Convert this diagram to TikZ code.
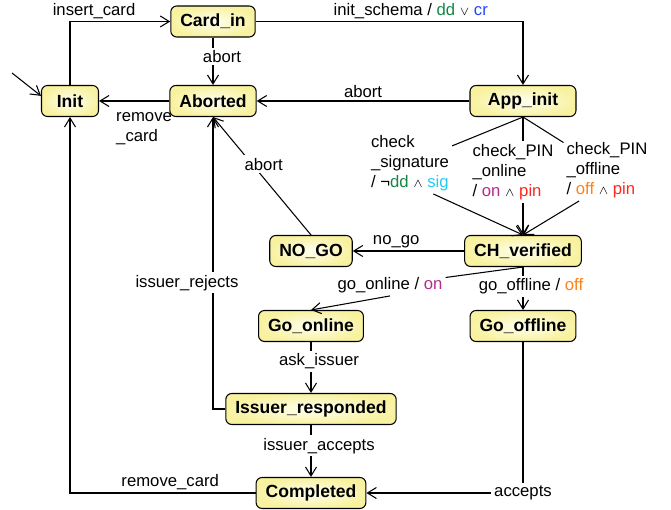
\documentclass[tikz,border=0pt]{standalone}
\usepackage{fontspec}
\setmainfont{Liberation Sans}
\usepackage{tikz}
\usetikzlibrary{arrows.meta}

\definecolor{stfill}{RGB}{248,242,160}
\definecolor{stcore}{RGB}{255,255,240}
\definecolor{ddgreen}{RGB}{20,135,70}
\definecolor{crblue}{RGB}{35,70,250}
\definecolor{sigcyan}{RGB}{40,200,240}
\definecolor{onpurple}{RGB}{180,40,140}
\definecolor{pinred}{RGB}{250,40,30}
\definecolor{offorange}{RGB}{255,130,20}

\newcommand\andop{\ensuremath{\scriptstyle\wedge}}
\newcommand\orop{\ensuremath{\scriptstyle\vee}}

\tikzset{
  stbox/.style={draw=black, rounded corners=0.12cm, inner color=stcore, outer color=stfill,
                minimum height=0.62cm, inner xsep=0.19cm, font=\bfseries},
  lbl/.style={inner sep=1.5pt},
  tr/.style={-{Straight Barb[length=1.8mm,width=2.2mm]}},
}

\begin{document}
\begin{tikzpicture}[line width=0.6pt, font=\fontsize{9.5}{11.4}\selectfont]
    \useasboundingbox (0,0) rectangle (13.42,-10.2);
    % states
    \node[stbox, minimum width=1.14cm] (Init)    at ( 1.40,-2.02) {Init};
    \node[stbox]                       (CardIn)  at ( 4.26,-0.43) {Card\_in};
    \node[stbox]                       (Aborted) at ( 4.26,-2.02) {Aborted};
    \node[stbox, minimum width=2.12cm] (AppInit) at (10.46,-2.02) {App\_init};
    \node[stbox]                       (NoGo)    at ( 6.22,-5.02) {NO\_GO};
    \node[stbox]                       (CHver)   at (10.46,-5.02) {CH\_verified};
    \node[stbox]                       (GoOn)    at ( 6.22,-6.52) {Go\_online};
    \node[stbox]                       (GoOff)   at (10.46,-6.52) {Go\_offline};
    \node[stbox]                       (IssResp) at ( 6.22,-8.18) {Issuer\_responded};
    \node[stbox]                       (Completed) at ( 6.22,-9.86) {Completed};
    % labels the edges pass through
    \node[lbl, align=left] (chksig) at ( 8.20,-3.26) {check\\\_signature\\/ ¬\textcolor{ddgreen}{dd} \andop{} \textcolor{sigcyan}{sig}};
    \node[lbl, align=left] (chkon)  at (10.26,-3.44) {check\_PIN\\\_online\\/ \textcolor{onpurple}{on} \andop{} \textcolor{pinred}{pin}};
    \node[lbl, align=left] (chkoff) at (12.14,-3.40) {check\_PIN\\\_offline\\/ \textcolor{offorange}{off} \andop{} \textcolor{pinred}{pin}};
    \node[lbl] (goon) at ( 7.80,-5.70) {go\_online / \textcolor{onpurple}{on}};
    \node[lbl] (acc)  at (GoOff |- Completed) {accepts};
    % transitions
    \coordinate (start) at (0.24,-1.46);
    \draw[tr] (start) -- (Init.170);
    \draw[tr] (Init.north) |- node[lbl, above, pos=0.62] {insert\_card} (CardIn.west);
    \draw[tr] (CardIn.east) -| node[lbl, above, pos=0.29] {init\_schema / \textcolor{ddgreen}{dd} \orop{} \textcolor{crblue}{cr}} (AppInit.north);
    \draw[tr] (CardIn) -- node[lbl, fill=white, pos=0.4, xshift=0.18cm] {abort} (Aborted);
    \draw[tr] (AppInit) -- node[lbl, above] {abort} (Aborted);
    \draw[tr] (Aborted) -- node[lbl, anchor=north west, align=left, pos=0.8, yshift=-0.16cm] {remove\\\_card} (Init);
    \draw (AppInit.south) -- (chksig);
    \draw[tr] (chksig.-53) -- (CHver.north);
    \draw (AppInit.south) -- (AppInit.south |- chkon.north);
    \draw[tr] (CHver.north |- chkon.south) -- (CHver.north);
    \draw (AppInit.south) -- (chkoff);
    \draw[tr] (chkoff.-132) -- (CHver.north);
    \draw[tr] (CHver) -- node[lbl, above, pos=0.61] {no\_go} (NoGo);
    \draw (CHver.south) -- (goon);
    \draw[tr] (goon.south) -- (GoOn.north);
    \draw[tr] (CHver) -- node[lbl, fill=white, pos=0.45, xshift=0.16cm] {go\_offline / \textcolor{offorange}{off}} (GoOff);
    \draw[tr] (NoGo.north) -- node[lbl, fill=white, pos=0.6, xshift=0.23cm] {abort} (Aborted.south);
    \draw[tr] (IssResp.west) -| node[lbl, fill=white, pos=0.716, xshift=-0.52cm] {issuer\_rejects} (Aborted.south);
    \draw[tr] (GoOn) -- node[lbl, fill=white, pos=0.38, xshift=0.16cm] {ask\_issuer} (IssResp);
    \draw[tr] (IssResp) -- node[lbl, fill=white, pos=0.4, xshift=0.16cm] {issuer\_accepts} (Completed);
    \draw (GoOff) -- (acc);
    \draw[tr] (acc) -- (Completed);
    \draw[tr] (Completed.west) -| node[lbl, above, pos=0.23] {remove\_card} (Init.south);
\end{tikzpicture}
\end{document}
